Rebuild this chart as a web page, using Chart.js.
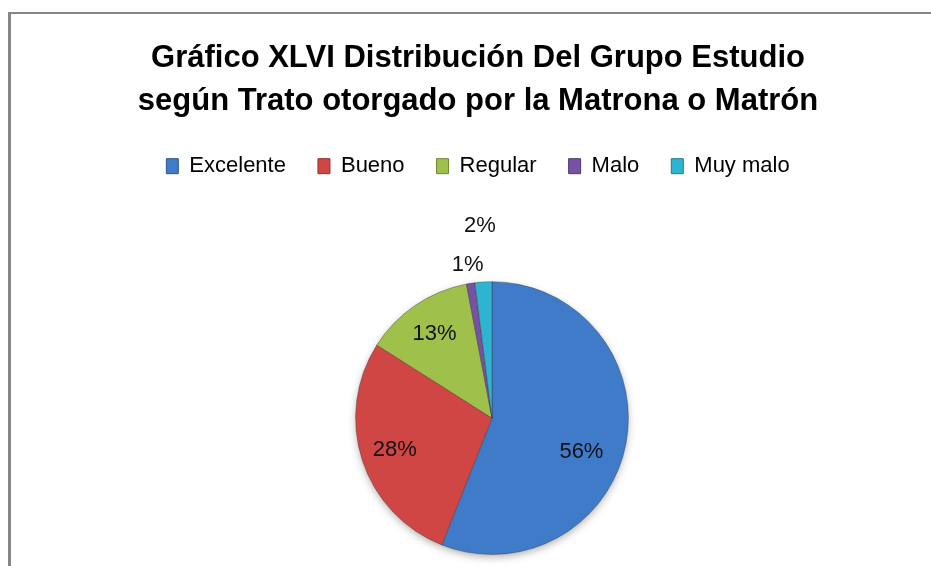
<!DOCTYPE html>
<html>
<head>
<meta charset="utf-8">
<script src="https://cdn.jsdelivr.net/npm/chart.js@4"></script>
<style>
  html, body { margin: 0; padding: 0; background: #fff; }
  #wrap { position: relative; width: 931px; height: 566px; overflow: hidden; }
  #frame {
    position: absolute; left: 8px; top: 12px; width: 1000px; height: 700px;
    border-left: 3px solid #868686; border-top: 2px solid #868686;
  }
  canvas { position: absolute; left: 0; top: 0; }
</style>
</head>
<body>
<div id="wrap">
  <div id="frame"></div>
  <canvas id="pieChart" width="931" height="566"></canvas>
</div>
<script>
const categories = ["Excelente", "Bueno", "Regular", "Malo", "Muy malo"];
const percentages = [56, 28, 13, 1, 2];
const baseColors = ["#3f7bc8", "#cf4644", "#9fc04a", "#7651a4", "#2eb3d1"];
const titleLines = [
  "Gráfico XLVI Distribución Del Grupo Estudio",
  "según Trato otorgado por la Matrona o Matrón",
];

// where each percentage sits: share of the radius, and a turn (radians) off the slice middle
const labelRadius = [0.70, 0.75, 0.75, 1.14, 1.41];
const labelTurn = [0.17, 0, 0, 0, 0];
const FONT = "'Liberation Sans', Arial, sans-serif";

function shade(hex, amt) {
  const n = parseInt(hex.slice(1), 16);
  let r = (n >> 16) & 255, g = (n >> 8) & 255, b = n & 255;
  const f = (c) => Math.max(0, Math.min(255, Math.round(amt >= 0 ? c + (255 - c) * amt : c * (1 + amt))));
  return `rgb(${f(r)},${f(g)},${f(b)})`;
}

// radial shading to give the slices a soft bevelled look
function sliceFill(ctx) {
  const chart = ctx.chart;
  const base = baseColors[ctx.dataIndex];
  const arc = chart.getDatasetMeta(0).data[ctx.dataIndex];
  if (!arc || !arc.outerRadius) return base;
  const g = chart.ctx.createRadialGradient(arc.x, arc.y - 20, 0, arc.x, arc.y, arc.outerRadius);
  g.addColorStop(0, shade(base, 0.08));
  g.addColorStop(0.86, base);
  g.addColorStop(0.96, shade(base, -0.12));
  g.addColorStop(1, shade(base, -0.3));
  return g;
}

// empty layout boxes, used to push the pie down and to the right
function spacer(position, size) {
  return {
    position, weight: 0, fullSize: false, options: {},
    top: 0, left: 0, right: 0, bottom: 0, width: 0, height: 0,
    isHorizontal() { return position === "top" || position === "bottom"; },
    update(maxWidth, maxHeight) {
      if (this.isHorizontal()) { this.width = maxWidth; this.height = size; }
      else { this.width = size; this.height = maxHeight; }
    },
    draw() {},
  };
}

const spacers = {
  id: "spacers",
  beforeInit(chart) {
    Chart.layouts.addBox(chart, spacer("top", 94));
    Chart.layouts.addBox(chart, spacer("left", 28));
  },
};

const percentLabels = {
  id: "percentLabels",
  afterDatasetsDraw(chart) {
    const ctx = chart.ctx;
    const meta = chart.getDatasetMeta(0);
    ctx.save();
    ctx.font = "22px " + FONT;
    ctx.fillStyle = "#111";
    ctx.textAlign = "center";
    ctx.textBaseline = "middle";
    meta.data.forEach((arc, i) => {
      const mid = (arc.startAngle + arc.endAngle) / 2 + labelTurn[i];
      const r = arc.outerRadius * labelRadius[i];
      ctx.fillText(percentages[i] + "%", arc.x + Math.cos(mid) * r, arc.y + Math.sin(mid) * r);
    });
    ctx.restore();
  },
};

const pieShadow = {
  id: "pieShadow",
  beforeDatasetsDraw(chart) {
    const arc = chart.getDatasetMeta(0).data[0];
    if (!arc) return;
    const ctx = chart.ctx;
    ctx.save();
    ctx.shadowColor = "rgba(0,0,0,0.35)";
    ctx.shadowBlur = 8;
    ctx.shadowOffsetY = 3;
    ctx.beginPath();
    ctx.arc(arc.x, arc.y, arc.outerRadius - 1, 0, Math.PI * 2);
    ctx.fillStyle = "#fff";
    ctx.fill();
    ctx.restore();
  },
};

new Chart(document.getElementById("pieChart"), {
  type: "pie",
  data: {
    labels: categories,
    datasets: [
      {
        data: percentages,
        backgroundColor: sliceFill,
        borderColor: "rgba(40,40,40,0.35)",
        borderWidth: 1,
      },
    ],
  },
  options: {
    responsive: false,
    animation: false,
    layout: { padding: { left: 25, right: 0, top: 0, bottom: 11 } },
    plugins: {
      title: {
        display: true,
        text: titleLines,
        color: "#000",
        font: { family: FONT, size: 31, weight: "bold", lineHeight: 1.39 },
        padding: { top: 37, bottom: 0 },
      },
      legend: {
        position: "top",
        labels: {
          color: "#000",
          font: { family: FONT, size: 22 },
          boxWidth: 12,
          boxHeight: 15,
          padding: 32,
          generateLabels: (chart) =>
            categories.map((c, i) => ({
              text: c,
              fillStyle: baseColors[i],
              strokeStyle: shade(baseColors[i], -0.3),
              lineWidth: 1,
              index: i,
            })),
        },
      },
      tooltip: { enabled: false },
    },
  },
  plugins: [spacers, pieShadow, percentLabels],
});
</script>
</body>
</html>
